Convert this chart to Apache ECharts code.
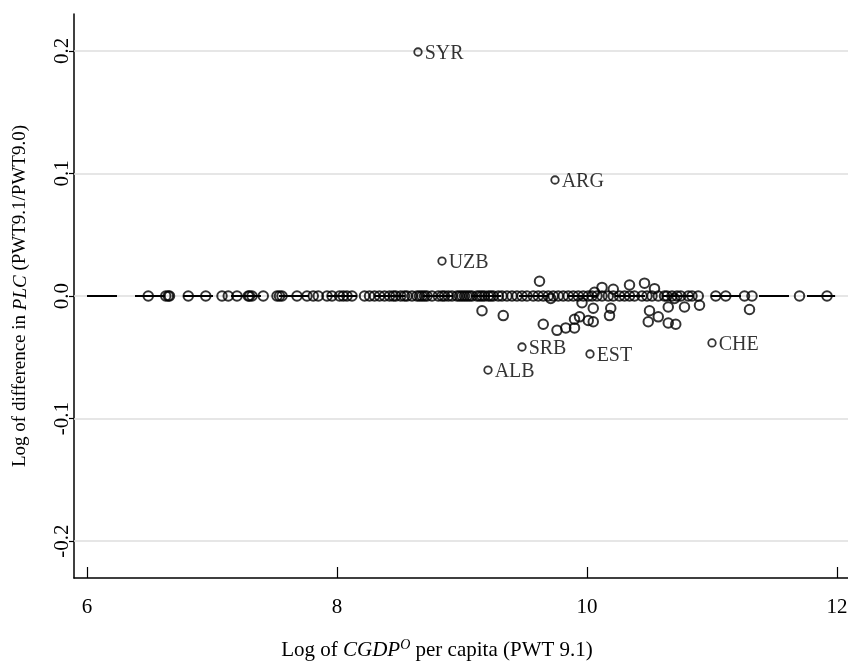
<!DOCTYPE html>
<html>
<head>
<meta charset="utf-8">
<script src="https://cdn.jsdelivr.net/npm/echarts@6/dist/echarts.min.js"></script>
<style>
html,body{margin:0;padding:0;background:#fff;}
#chart{width:848px;height:664px;}
</style>
</head>
<body>
<div id="chart"></div>
<script>
// ---- data ----
// countries whose PLC difference is (about) zero
const zeroX = [6.49, 6.63, 6.65, 6.66, 6.81, 6.95, 7.08, 7.13, 7.20, 7.29, 7.30, 7.32, 7.41, 7.52, 7.54, 7.56,
  7.68, 7.76, 7.81, 7.85, 7.92, 7.96, 8.02, 8.05, 8.08, 8.12, 8.22, 8.26, 8.30, 8.34, 8.38, 8.42, 8.45, 8.47,
  8.51, 8.54, 8.56, 8.60, 8.64, 8.66, 8.68, 8.70, 8.72, 8.76, 8.81, 8.84, 8.86, 8.89, 8.92, 8.96, 8.98, 9.00,
  9.02, 9.04, 9.06, 9.08, 9.12, 9.14, 9.16, 9.18, 9.21, 9.23, 9.25, 9.29, 9.32, 9.36, 9.40, 9.44, 9.48, 9.52,
  9.57, 9.61, 9.65, 9.69, 9.73, 9.77, 9.81, 9.85, 9.89, 9.93, 9.97, 10.01, 10.04, 10.08, 10.12, 10.17, 10.21,
  10.26, 10.30, 10.34, 10.38, 10.44, 10.48, 10.52, 10.57, 10.62, 10.64, 10.68, 10.72, 10.75, 10.81, 10.84,
  10.89, 11.03, 11.11, 11.26, 11.32, 11.70, 11.92];
const zeroY = zeroX.map(() => 0);

// countries with a visible non-zero difference (unlabelled)
const offX = [9.16, 9.33, 9.62, 9.65, 9.76, 9.83, 9.90, 9.90, 9.94, 9.96, 10.01, 10.05, 10.05, 10.06, 10.12,
  10.18, 10.19, 10.21, 10.34, 10.46, 10.54, 10.50, 10.49, 10.57, 10.65, 10.65, 10.71, 10.78, 10.90, 11.30, 9.71, 10.70];
const offY = [-0.012, -0.016, 0.012, -0.023, -0.028, -0.026, -0.026, -0.019, -0.017, -0.0055, -0.020, -0.021,
  -0.010, 0.003, 0.007, -0.016, -0.010, 0.0055, 0.009, 0.0105, 0.006, -0.012, -0.021, -0.017, -0.009, -0.022,
  -0.023, -0.009, -0.0075, -0.011, -0.002, -0.002];

// labelled countries
const labNames = ['SYR', 'ARG', 'UZB', 'SRB', 'ALB', 'EST', 'CHE'];
const labX = [8.648, 9.744, 8.84, 9.48, 9.208, 10.024, 11.0];
const labY = [0.199, 0.0946, 0.0285, -0.0416, -0.0604, -0.0473, -0.0383];

// reference line y = 0
const refLineX = [6.0, 11.985];
const refLineY = [0, 0];

// axis ticks
const xTicks = [6, 8, 10, 12];
const yTicks = [-0.2, -0.1, 0.0, 0.1, 0.2];

// ---- chart ----
const FONT = 'Liberation Serif';
const chart = echarts.init(document.getElementById('chart'), null, {renderer: 'canvas'});

chart.setOption({
  animation: false,
  backgroundColor: '#fff',
  grid: {left: 74, right: 0, top: 14, bottom: 86, containLabel: false, outerBoundsMode: 'none'},
  xAxis: {
    type: 'value', min: 5.896, max: 12.088,
    axisLine: {show: true, onZero: false, lineStyle: {color: '#000', width: 1.5}},
    axisTick: {show: true, inside: true, length: 11, customValues: xTicks, lineStyle: {color: '#000', width: 1.2}},
    axisLabel: {customValues: xTicks, color: '#000', fontFamily: FONT, fontSize: 21, margin: 19,
      formatter: v => String(Math.round(v))},
    splitLine: {show: false},
    name: '{n|Log of }{i|CGDP}{sup|O}{n| per capita (PWT 9.1)}',
    nameLocation: 'middle', nameGap: 60,
    nameTextStyle: {padding: [0, 48, 0, 0], rich: {
      n: {fontFamily: FONT, fontSize: 21, color: '#000', lineHeight: 25},
      i: {fontFamily: FONT, fontSize: 21, fontStyle: 'italic', color: '#000', lineHeight: 25},
      sup: {fontFamily: FONT, fontSize: 14, fontStyle: 'italic', color: '#000', lineHeight: 14, verticalAlign: 'top'}
    }}
  },
  yAxis: {
    type: 'value', min: -0.23, max: 0.23,
    axisLine: {show: true, onZero: false, lineStyle: {color: '#000', width: 1.5}},
    axisTick: {show: true, inside: false, length: 5, customValues: yTicks, lineStyle: {color: '#000', width: 1.2}},
    axisLabel: {customValues: yTicks, color: '#000', fontFamily: FONT, fontSize: 21, rotate: 90, margin: 1,
      formatter: v => v.toFixed(1)},
    splitLine: {show: false},
    name: '{n|Log of difference in }{i|PLC}{n| (PWT9.1/PWT9.0)}',
    nameLocation: 'middle', nameRotate: 90, nameGap: 44,
    nameTextStyle: {rich: {
      n: {fontFamily: FONT, fontSize: 19, color: '#000'},
      i: {fontFamily: FONT, fontSize: 19, fontStyle: 'italic', color: '#000'}
    }}
  },
  series: [
    {
      type: 'line', z: 1, data: [], silent: true,
      markLine: {
        z: 1, silent: true, symbol: ['none', 'none'], label: {show: false},
        lineStyle: {color: '#dedede', width: 1.6, type: 'solid'},
        data: yTicks.map(v => ({yAxis: v}))
      }
    },
    {
      type: 'line', z: 3, silent: true, symbol: 'none',
      data: refLineX.map((x, i) => [x, refLineY[i]]),
      lineStyle: {color: '#000', width: 2, type: [30, 18]}
    },
    {
      type: 'scatter', z: 4, symbol: 'circle', symbolSize: 9.5,
      data: zeroX.map((x, i) => [x, zeroY[i]]).concat(offX.map((x, i) => [x, offY[i]])),
      itemStyle: {color: 'rgba(0,0,0,0)', borderColor: '#000', borderWidth: 2}
    },
    {
      type: 'scatter', z: 5, symbol: 'circle', symbolSize: 7.5,
      data: labX.map((x, i) => ({value: [x, labY[i]], name: labNames[i]})),
      itemStyle: {color: 'rgba(0,0,0,0)', borderColor: '#000', borderWidth: 1.8},
      label: {show: true, position: 'right', distance: 2, offset: [0, 2], formatter: p => p.name,
        color: '#000', fontFamily: FONT, fontSize: 20}
    }
  ]
});
</script>
</body>
</html>
